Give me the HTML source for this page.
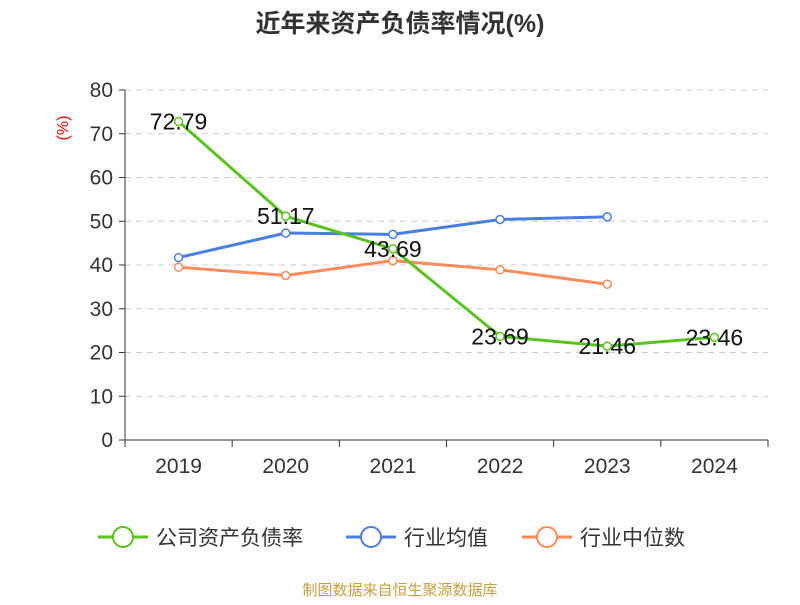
<!DOCTYPE html>
<html><head><meta charset="utf-8"><style>
body{margin:0;background:#fff;}
svg text{font-family:"Liberation Sans","Noto Sans CJK SC",sans-serif;}
</style></head><body>
<svg id="c" width="800" height="600" xmlns="http://www.w3.org/2000/svg">
<text x="400" y="32" text-anchor="middle" font-size="25" font-weight="bold" fill="#333">近年来资产负债率情况(%)</text>
<text x="68" y="128" text-anchor="middle" font-size="16" fill="#e00" transform="rotate(-90 68 128)">(%)</text>
<g id="grid"></g><g id="axes"></g><g id="series"></g>
<g id="legend"></g>
<text x="400" y="595" text-anchor="middle" font-size="15" fill="#c8a040">制图数据来自恒生聚源数据库</text>
</svg>
<script>
const categories=["2019","2020","2021","2022","2023","2024"];
const companyVals=[72.79,51.17,43.69,23.69,21.46,23.46];
const avgVals=[41.7,47.3,47.0,50.4,51.0];
const medVals=[39.5,37.6,41.0,38.9,35.6];
const yTicks=[0,10,20,30,40,50,60,70,80];
const NS="http://www.w3.org/2000/svg";
const svg=document.getElementById('c');
const x0=125,x1=768,yb=440,yt=90;
const bw=(x1-x0)/categories.length;
const xs=i=>x0+bw*(i+0.5);
const ys=v=>yb-(v/80)*(yb-yt);
function mk(tag,attrs,parent,txt){const e=document.createElementNS(NS,tag);for(const k in attrs)e.setAttribute(k,attrs[k]);if(txt!==undefined)e.textContent=txt;parent.appendChild(e);return e;}
const grid=document.getElementById('grid'),axes=document.getElementById('axes'),ser=document.getElementById('series'),leg=document.getElementById('legend');
yTicks.forEach(t=>{
 const y=ys(t);
 if(t>0){const l=mk('line',{x1:x0,x2:x1,y1:y,y2:y,stroke:'#ccc','stroke-dasharray':'6,5'},grid);
 
 }
 const tk=mk('line',{x1:x0-6,x2:x0,y1:y,y2:y,stroke:'#333'},axes);
 
 
 const tx=mk('text',{x:x0-12,y:y+7,'text-anchor':'end','font-size':21,fill:'#333'},axes,t);
 
 
});
const ya=mk('line',{x1:x0,x2:x0,y1:yt,y2:yb,stroke:'#333'},axes);


const xa=mk('line',{x1:x0,x2:x1,y1:yb,y2:yb,stroke:'#333'},axes);


for(let i=0;i<=categories.length;i++){const x=x0+bw*i;const t=mk('line',{x1:x,x2:x,y1:yb,y2:yb+7,stroke:'#333'},axes);
 
 }
categories.forEach((c,i)=>{const t=mk('text',{x:xs(i),y:473,'text-anchor':'middle','font-size':21,fill:'#333'},axes,c);
 
 });
function line(vals,color,name,labels){
 const g=mk('g',{},ser);
 
 
 const p=mk('polyline',{points:vals.map((v,i)=>xs(i)+','+ys(v)).join(' '),fill:'none',stroke:color,'stroke-width':3},g);
 
 
 vals.forEach((v,i)=>{
  const c=mk('circle',{cx:xs(i),cy:ys(v),r:4,fill:'#fff',stroke:color,'stroke-width':1.5},g);
  
  
  if(labels){const t=mk('text',{x:xs(i),y:ys(v)+8,'text-anchor':'middle','font-size':23,fill:'#111'},g,v.toFixed(2));
   
   }
 });
}
line(medVals,'#fb8c5a','median-series',false);
line(avgVals,'#4a7fe0','average-series',false);
line(companyVals,'#5ac41e','company-series',true);
const items=[["公司资产负债率",'#5ac41e',98],["行业均值",'#4a7fe0',346],["行业中位数",'#fb8c5a',522]];
items.forEach(([n,c,x])=>{
 const g=mk('g',{},leg);
 
 
 mk('line',{x1:x,x2:x+50,y1:537,y2:537,stroke:c,'stroke-width':3},g);
 mk('circle',{cx:x+25,cy:537,r:10,fill:'#fff',stroke:c,'stroke-width':2},g);
 mk('text',{x:x+58,y:545,'font-size':21,fill:'#333'},g,n);
});
</script>
</body></html>
